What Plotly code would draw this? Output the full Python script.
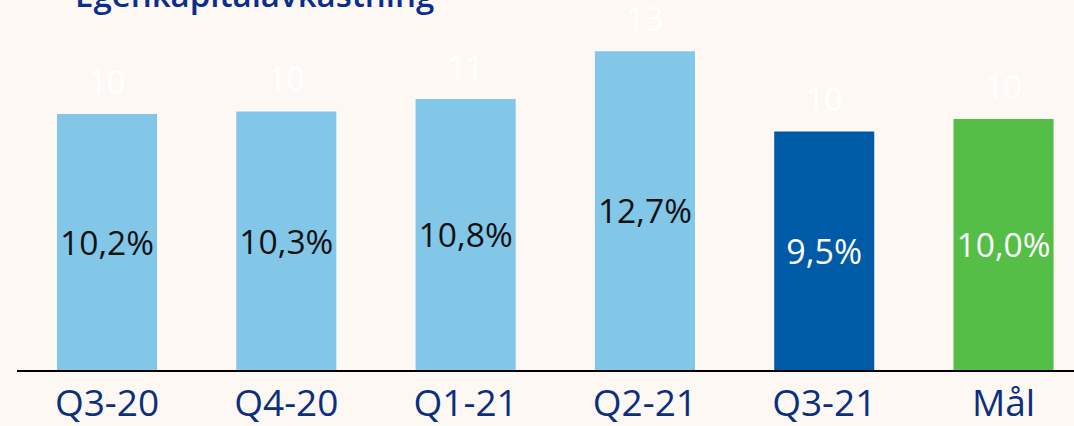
import plotly.graph_objects as go

categories = ["Q3-20", "Q4-20", "Q1-21", "Q2-21", "Q3-21", "Mål"]
values = [10.2, 10.3, 10.8, 12.7, 9.5, 10.0]
inner_labels = ["10,2%", "10,3%", "10,8%", "12,7%", "9,5%", "10,0%"]
outer_labels = ["10", "10", "11", "13", "10", "10"]
bar_colors = ["#82c6e8", "#82c6e8", "#82c6e8", "#82c6e8", "#005ba6", "#55be47"]
inner_text_colors = ["#111111", "#111111", "#111111", "#111111", "#ffffff", "#ffffff"]

FONT = "Open Sans"
NAVY = "#0a2f7e"
BG = "#fdf8f4"

fig = go.Figure()
fig.add_trace(go.Bar(
    x=categories, y=values, marker_color=bar_colors, marker_line_width=0,
    width=0.558,
    text=inner_labels, textposition="inside", insidetextanchor="middle",
    textangle=0,
    textfont=dict(family=FONT, size=34, color=inner_text_colors),
    hoverinfo="skip",
))
fig.add_trace(go.Scatter(
    x=categories, y=values, mode="markers+text", text=outer_labels,
    marker=dict(size=18, color="rgba(0,0,0,0)"),
    textposition="top center",
    textfont=dict(family=FONT, size=32, color="#ffffff"),
    hoverinfo="skip", cliponaxis=False,
))
fig.add_annotation(
    text="Egenkapitalavkastning", xref="paper", yref="paper",
    x=0.053, xanchor="left", y=1.0, yanchor="bottom", yshift=-18,
    showarrow=False, font=dict(family=FONT, size=33, color="#0b2d8c", weight=600),
)
fig.update_layout(
    width=1074, height=426,
    margin=dict(l=17, r=0, t=1, b=56),
    paper_bgcolor=BG, plot_bgcolor=BG,
    showlegend=False,
    xaxis=dict(range=[-0.502, 5.393], showline=True, linecolor="#000000", linewidth=2,
               ticks="", tickfont=dict(family=FONT, size=37, color=NAVY),
               showgrid=False, zeroline=False, fixedrange=True),
    yaxis=dict(range=[0, 14.7], visible=False, showgrid=False, zeroline=False),
    uniformtext=dict(mode=False),
)
fig.write_html("out.html", config={"displayModeBar": False},
               post_script="document.body.style.margin='0';document.body.style.background='" + BG + "';")
